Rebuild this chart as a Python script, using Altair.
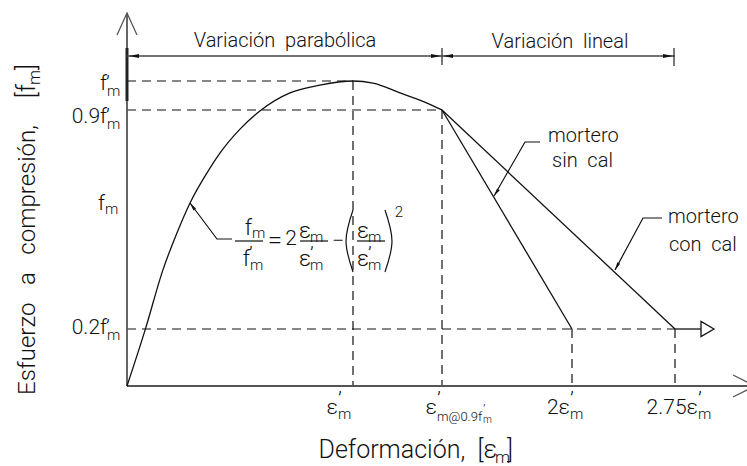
import altair as alt
import pandas as pd

# Normalised stress-strain curve of mortar: strain in units of ε'm, stress in units of f'm
curve_strain = [0.0, 0.08, 0.159, 0.221, 0.279, 0.354, 0.412, 0.5, 0.588,
                0.721, 0.854, 1.0, 1.071, 1.167, 1.263, 1.316]
curve_stress = [0.0, 0.196, 0.389, 0.507, 0.603, 0.699, 0.763, 0.839, 0.897,
                0.959, 0.986, 1.0, 0.993, 0.959, 0.924, 0.9]

# strain marks: ε'm, ε'm@0.9f'm, 2ε'm, 2.75ε'm
strain_marks = [1.0, 1.316, 2.0, 2.75]
# stress marks: f'm, 0.9f'm, 0.2f'm
stress_marks = [1.0, 0.9, 0.2]

# linear softening branches, from (ε'm@0.9f'm, 0.9f'm) down to 0.2f'm
branch_names = ["mortero sin cal", "mortero con cal"]
branch_end_strain = [2.0, 2.75]

W, H = 747, 466
FONT = "Roboto"
WEIGHT = 300
INK = "#111111"
AXIS = "#555555"
GAP = "\u00a0\u00a0"  # wide word gap of the drafting lettering

# piecewise scales: the sketch is not drawn to scale along either axis
x_scale = alt.Scale(domain=[0.0] + strain_marks, range=[127, 353, 442, 572, 675],
                    nice=False, zero=False)
y_scale = alt.Scale(domain=[0.0] + stress_marks[::-1], range=[386, 329, 110, 81],
                    nice=False, zero=False)

PX = dict(scale=None)

# ---------------------------------------------------------------- data marks
curve = pd.DataFrame({"strain": curve_strain, "stress": curve_stress})
curve_layer = alt.Chart(curve).mark_line(
    color=INK, strokeWidth=1.3, interpolate="monotone"
).encode(
    x=alt.X("strain:Q", scale=x_scale, axis=None),
    y=alt.Y("stress:Q", scale=y_scale, axis=None),
)

branch_rows = []
for name, end in zip(branch_names, branch_end_strain):
    branch_rows.append({"branch": name, "seq": 0, "strain": strain_marks[1], "stress": stress_marks[1]})
    branch_rows.append({"branch": name, "seq": 1, "strain": end, "stress": stress_marks[2]})
branch_layer = alt.Chart(pd.DataFrame(branch_rows)).mark_line(
    color=INK, strokeWidth=1.3
).encode(
    x=alt.X("strain:Q", scale=x_scale, axis=None),
    y=alt.Y("stress:Q", scale=y_scale, axis=None),
    detail="branch:N",
    order="seq:Q",
)

# dashed reference lines
guide_rows = []
for level, reach in zip(stress_marks, [strain_marks[0], strain_marks[1], strain_marks[3]]):
    guide_rows.append({"x0": 0.0, "x1": reach, "y0": level, "y1": level})
for s, top in zip(strain_marks, [stress_marks[0], stress_marks[1], stress_marks[2], stress_marks[2]]):
    guide_rows.append({"x0": s, "x1": s, "y0": top, "y1": 0.0})
guide_layer = alt.Chart(pd.DataFrame(guide_rows)).mark_rule(
    color=INK, strokeWidth=1.2, strokeDash=[9, 6]
).encode(
    x=alt.X("x0:Q", scale=x_scale, axis=None),
    x2="x1:Q",
    y=alt.Y("y0:Q", scale=y_scale, axis=None),
    y2="y1:Q",
)

# ---------------------------------------------------------------- tick labels
label_layers = []

# stress axis: prefix + f, prime, subscript m; placed at each stress mark
for level, prefix, dy in zip(stress_marks, ["", "0.9", "0.2"], [9, 13, 5]):
    for text, px, ddy, size, align in [
        (prefix + "f", 107, dy, 21, "right"),
        ("\u2019", 106, dy, 21, "left"),
        ("m", 107, dy + 6, 15, "left"),
    ]:
        label_layers.append(
            alt.Chart(pd.DataFrame({"stress": [level], "label": [text]})).mark_text(
                align=align, baseline="alphabetic", font=FONT, fontWeight=WEIGHT,
                color=INK, fontSize=size, x=px, dy=ddy,
            ).encode(y=alt.Y("stress:Q", scale=y_scale, axis=None), text="label:N")
        )

# strain axis: main symbol, prime, subscript; placed at each strain mark
x_pieces = {
    strain_marks[0]: [("\u03b5", -15, 414, 21, "right"), ("\u2019", -15, 406, 21, "left"),
                      ("m", -15, 419, 15, "left")],
    strain_marks[1]: [("\u03b5", -5, 414, 21, "right"), ("\u2019", -5, 406, 21, "left"),
                      ("m@0.9f", -5, 421, 13, "left"), ("\u2019", 41, 414, 13, "left"),
                      ("m", 41, 423, 10, "left")],
    strain_marks[2]: [("2\u03b5", -2, 414, 21, "right"), ("\u2019", -2, 406, 21, "left"),
                      ("m", -2, 419, 15, "left")],
    strain_marks[3]: [("2.75\u03b5", 23, 414, 21, "right"), ("\u2019", 23, 406, 21, "left"),
                      ("m", 23, 419, 15, "left")],
}
for s, pieces in x_pieces.items():
    for text, dx, py, size, align in pieces:
        label_layers.append(
            alt.Chart(pd.DataFrame({"strain": [s], "label": [text]})).mark_text(
                align=align, baseline="alphabetic", font=FONT, fontWeight=WEIGHT,
                color=INK, fontSize=size, y=py, dx=dx,
            ).encode(x=alt.X("strain:Q", scale=x_scale, axis=None), text="label:N")
        )

# ---------------------------------------------------------------- drawing furniture
strokes = [
    # axes and their open arrowheads
    ("yaxis", [(127, 386), (127, 13)], 1.8, AXIS),
    ("yhead", [(117, 35), (127, 13), (137, 35)], 1.3, AXIS),
    ("xaxis", [(127, 386), (760, 386)], 1.8, AXIS),
    ("xhead", [(733, 375), (755, 386), (733, 397)], 1.3, AXIS),
    ("ybold", [(127, 48), (127, 101)], 3.0, "#222222"),
    # dimension line over the two stages
    ("dim", [(127, 56), (675, 56)], 1.5, "#444444"),
    ("dimtick1", [(442, 48), (442, 65)], 1.3, "#333333"),
    ("dimtick2", [(674, 48), (674, 66)], 1.3, "#333333"),
    # extension of the 0.2f'm level
    ("ext", [(675, 329), (701, 329)], 1.3, INK),
    # leaders
    ("lead_eq", [(190, 203), (217, 239), (232, 239)], 1.2, INK),
    ("lead_sin", [(494, 196), (525, 142), (540, 142)], 1.2, INK),
    ("lead_con", [(615, 270), (643, 218), (662, 218)], 1.2, INK),
    # fraction bars of the equation
    ("bar1", [(235, 241), (263, 241)], 1.2, INK),
    ("bar2", [(300, 241), (328, 241)], 1.2, INK),
    ("bar3", [(357, 241), (385, 241)], 1.2, INK),
]
stroke_rows = []
for sid, pts, w, c in strokes:
    for i, (px, py) in enumerate(pts):
        stroke_rows.append({"id": sid, "seq": i, "px": px, "py": py, "w": w, "c": c})
stroke_layer = alt.Chart(pd.DataFrame(stroke_rows)).mark_line().encode(
    x=alt.X("px:Q", **PX),
    y=alt.Y("py:Q", **PX),
    detail="id:N",
    order="seq:Q",
    strokeWidth=alt.StrokeWidth("w:Q", **PX),
    color=alt.Color("c:N", **PX),
)

# large parentheses of the squared term
paren_rows = []
for sid, pts in [("lp", [(353, 210), (346, 241), (353, 272)]), ("rp", [(385, 210), (392, 241), (385, 272)])]:
    for i, (px, py) in enumerate(pts):
        paren_rows.append({"id": sid, "seq": i, "px": px, "py": py})
paren_layer = alt.Chart(pd.DataFrame(paren_rows)).mark_line(
    color=INK, strokeWidth=1.2, interpolate="natural"
).encode(
    x=alt.X("px:Q", **PX), y=alt.Y("py:Q", **PX), detail="id:N", order="seq:Q"
)

# filled slim arrowheads (tip at the point, rotated clockwise by angle)
heads = pd.DataFrame([
    {"px": 129, "py": 56, "ang": 180, "sz": 400},
    {"px": 441, "py": 56, "ang": 0, "sz": 400},
    {"px": 443, "py": 56, "ang": 180, "sz": 400},
    {"px": 673, "py": 56, "ang": 0, "sz": 400},
    {"px": 190, "py": 203, "ang": 234, "sz": 256},
    {"px": 494, "py": 196, "ang": 124, "sz": 256},
    {"px": 615, "py": 270, "ang": 118, "sz": 256},
])
head_layer = alt.Chart(heads).mark_point(
    shape="M0,0L-1,-0.2L-1,0.2Z", filled=True, color=INK, opacity=1
).encode(
    x=alt.X("px:Q", **PX), y=alt.Y("py:Q", **PX),
    angle=alt.Angle("ang:Q", **PX), size=alt.Size("sz:Q", **PX),
)

open_head = alt.Chart(pd.DataFrame([{"px": 714, "py": 329}])).mark_point(
    shape="M0,0L-1,-0.58L-1,0.58Z", filled=False, color=INK, strokeWidth=1.3, size=676, opacity=1
).encode(x=alt.X("px:Q", **PX), y=alt.Y("py:Q", **PX))

# ---------------------------------------------------------------- text
texts = [
    ("Variación" + GAP + "parabólica", 285, 47, 20, "center", 0),
    ("Variación" + GAP + "lineal", 560, 48, 20, "center", 0),
    ("mortero", 548, 142, 20, "left", 0),
    ("sin" + GAP + "cal", 552, 167, 20, "left", 0),
    ("mortero", 668, 223, 20, "left", 0),
    ("con" + GAP + "cal", 669, 251, 20, "left", 0),
    # horizontal axis title
    ("Deformación," + GAP + "[\u03b5", 497, 458, 25, "right", 0),
    ("m", 495, 463, 17, "left", 0),
    ("]", 507, 458, 25, "left", 0),
    # vertical axis title
    ("Esfuerzo" + GAP + "\u00a0a" + GAP + "\u00a0compresión,", 35, 395, 24, "left", 270),
    ("[f", 35, 84, 25, "right", 270),
    ("m", 40, 70, 17, "right", 270),
    ("]", 35, 70, 25, "left", 270),
    # generic stress label
    ("f", 105, 210, 21, "right", 0),
    ("m", 105, 214, 15, "left", 0),
    # equation of the parabolic branch
    ("f", 252, 235, 22, "right", 0),
    ("m", 252, 238, 15, "left", 0),
    ("f", 250, 266, 22, "right", 0),
    ("\u2019", 249, 261, 20, "left", 0),
    ("m", 250, 270, 15, "left", 0),
    ("=", 275, 249, 26, "center", 0),
    ("2", 291, 245, 21, "center", 0),
    ("\u03b5", 311, 238, 22, "right", 0),
    ("m", 310, 242, 15, "left", 0),
    ("\u03b5", 311, 266, 22, "right", 0),
    ("\u2019", 310, 261, 20, "left", 0),
    ("m", 310, 270, 15, "left", 0),
    ("\u2212", 338, 248, 22, "center", 0),
    ("\u03b5", 369, 238, 22, "right", 0),
    ("m", 368, 242, 15, "left", 0),
    ("\u03b5", 369, 266, 22, "right", 0),
    ("\u2019", 368, 261, 20, "left", 0),
    ("m", 368, 270, 15, "left", 0),
    ("2", 399, 217, 15, "center", 0),
]
text_df = pd.DataFrame(texts, columns=["text", "px", "py", "size", "align", "angle"])


def text_layer(align):
    return alt.Chart(text_df[text_df["align"] == align]).mark_text(
        align=align, baseline="alphabetic", font=FONT, fontWeight=WEIGHT, color=INK
    ).encode(
        x=alt.X("px:Q", **PX),
        y=alt.Y("py:Q", **PX),
        text="text:N",
        size=alt.Size("size:Q", **PX),
        angle=alt.Angle("angle:Q", **PX),
    )


chart = alt.layer(
    guide_layer,
    stroke_layer,
    paren_layer,
    curve_layer,
    branch_layer,
    head_layer,
    open_head,
    *label_layers,
    text_layer("left"), text_layer("center"), text_layer("right"),
).properties(
    width=W, height=H, padding=0, autosize="none", background="white"
).configure_view(stroke=None)

chart.save("out.html", embed_options={"renderer": "svg", "actions": False})
